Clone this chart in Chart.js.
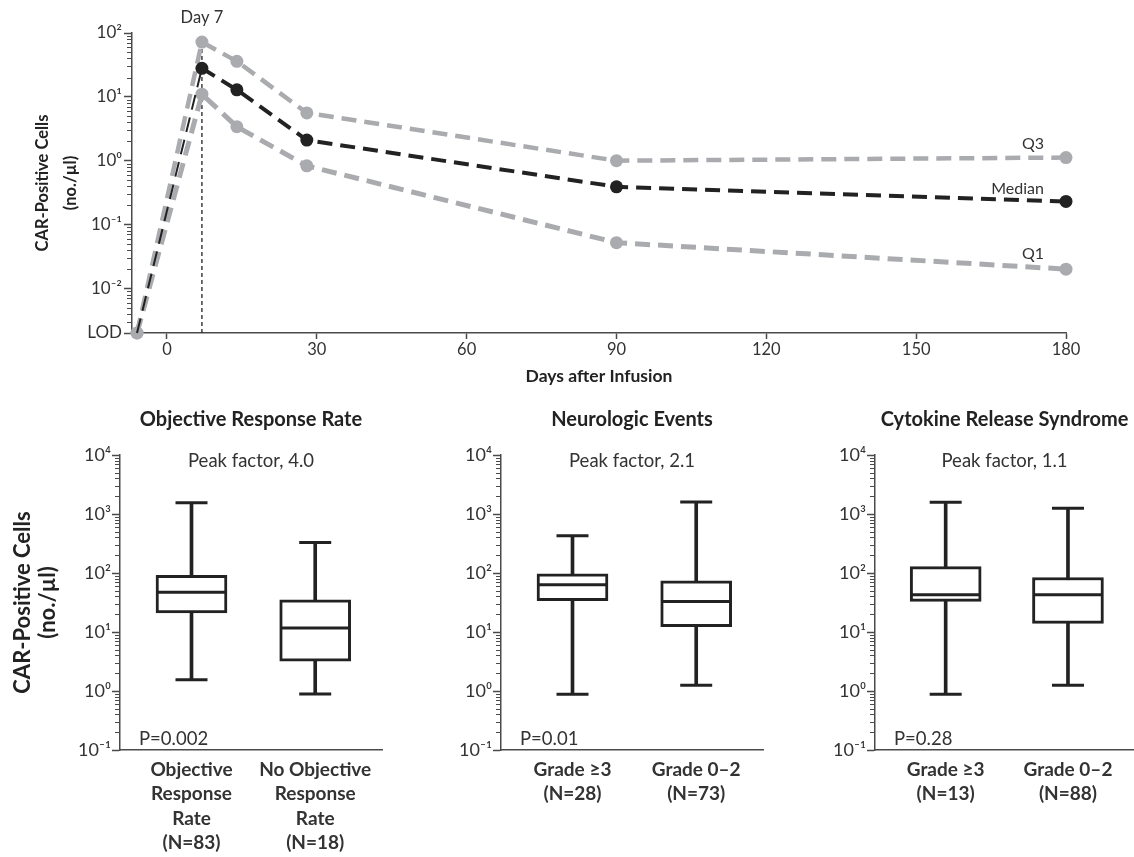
<!DOCTYPE html>
<html><head><meta charset="utf-8">
<script src="https://cdn.jsdelivr.net/npm/chart.js@4.4.1/dist/chart.umd.min.js"></script>
<style>
html,body{margin:0;padding:0;background:#fff;width:1134px;height:857px;overflow:hidden;}
canvas{position:absolute;}
</style></head><body>
<canvas id="top" width="1134" height="390" style="left:0;top:0"></canvas>
<canvas id="p1" width="390" height="472" style="left:0;top:385px"></canvas>
<canvas id="p2" width="380" height="472" style="left:390px;top:385px"></canvas>
<canvas id="p3" width="364" height="472" style="left:770px;top:385px"></canvas>
<script>
// ---------- data ----------
const LOD = 0.002;
const days = [-6, 7, 14, 28, 90, 180];
const q3Cells = [LOD, 72, 36, 5.6, 1.0, 1.12];
const medianCells = [LOD, 28, 12.9, 2.1, 0.39, 0.23];
const q1Cells = [LOD, 11, 3.4, 0.83, 0.052, 0.020];
const peakDay = 7;
const dayTicks = [0, 30, 60, 90, 120, 150, 180];
const topYTicks = [LOD, 0.01, 0.1, 1, 10, 100];
const topYTickLabels = ['LOD', '10⁻²', '10⁻¹', '10⁰', '10¹', '10²'];
const boxYTicks = [0.1, 1, 10, 100, 1000, 10000];
const boxYTickLabels = ['10⁻¹', '10⁰', '10¹', '10²', '10³', '10⁴'];

const orrGroups = [['Objective', 'Response', 'Rate', '(N=83)'], ['No Objective', 'Response', 'Rate', '(N=18)']];
const orrMin = [1.55, 0.89];
const orrQ1 = [21, 3.2];
const orrMedian = [47, 11.7];
const orrQ3 = [91, 35];
const orrMax = [1550, 330];

const neGroups = [['Grade ≥3', '(N=28)'], ['Grade 0–2', '(N=73)']];
const neMin = [0.88, 1.25];
const neQ1 = [34, 12.3];
const neMedian = [63, 33];
const neQ3 = [97, 74];
const neMax = [430, 1600];

const crsGroups = [['Grade ≥3', '(N=13)'], ['Grade 0–2', '(N=88)']];
const crsMin = [0.88, 1.25];
const crsQ1 = [33, 14];
const crsMedian = [43, 43];
const crsQ3 = [128, 84];
const crsMax = [1580, 1250];

// ---------- styling ----------
const FONT = "Lato, 'Noto Sans', 'DejaVu Sans', sans-serif";
const GRAY = '#a9abae';
const DARK = '#222222';
const AXIS = '#4a4a4a';

function textPlugin(items) {
  return {
    id: 'texts',
    afterDraw(chart) {
      const ctx = chart.ctx;
      items.forEach(it => {
        ctx.save();
        ctx.font = it.font;
        ctx.fillStyle = it.color || DARK;
        ctx.textAlign = it.align || 'center';
        ctx.textBaseline = 'middle';
        ctx.fillText(it.text, it.x(chart), it.y(chart));
        ctx.restore();
      });
    }
  };
}
function minorTickPlugin(values, len) {
  return {
    id: 'minorTicks',
    afterDraw(chart) {
      const s = chart.scales.y, ctx = chart.ctx;
      ctx.save();
      ctx.strokeStyle = AXIS; ctx.lineWidth = 1;
      ctx.beginPath();
      values.forEach(v => {
        const y = Math.round(s.getPixelForValue(v)) + 0.5;
        ctx.moveTo(s.right - len, y); ctx.lineTo(s.right, y);
      });
      ctx.stroke(); ctx.restore();
    }
  };
}
function minorValues(kFrom, kTo, lo, hi) {
  const out = [];
  for (let k = kFrom; k <= kTo; k++) for (let m = 2; m <= 9; m++) {
    const v = m * Math.pow(10, k);
    if (v > lo && v < hi) out.push(v);
  }
  return out;
}

// ---------- top chart ----------
const pts = arr => days.map((d, i) => ({ x: d, y: arr[i] }));
new Chart(document.getElementById('top'), {
  type: 'line',
  data: {
    datasets: [
      { data: [{ x: peakDay, y: q3Cells[1] }, { x: peakDay, y: LOD }], borderColor: DARK, borderWidth: 1.3,
        borderDash: [4, 3], pointRadius: 0, order: 10, clip: false },
      { label: 'Q3', data: pts(q3Cells), borderColor: GRAY, backgroundColor: GRAY, borderWidth: 4.5, borderDash: [15, 8],
        pointRadius: 6.5, pointBorderWidth: 0, pointBackgroundColor: GRAY, order: 3, clip: false },
      { label: 'Q1', data: pts(q1Cells), borderColor: GRAY, backgroundColor: GRAY, borderWidth: 5, borderDash: [15, 8],
        pointRadius: 6.5, pointBorderWidth: 0, pointBackgroundColor: GRAY, order: 2, clip: false },
      { label: 'Median', data: pts(medianCells), borderColor: DARK, backgroundColor: DARK, borderWidth: 4, borderDash: [15, 8],
        segment: { borderWidth: c => (c.p0DataIndex === 0 ? 2 : undefined) },
        pointRadius: c => (c.dataIndex === 0 ? 0 : 6.5), pointBorderWidth: 0, pointBackgroundColor: DARK, order: 1, clip: false }
    ]
  },
  options: {
    responsive: false, animation: false, devicePixelRatio: 1,
    layout: { autoPadding: false, padding: { top: 33, right: 68, left: 0, bottom: 0 } },
    plugins: { legend: { display: false }, tooltip: { enabled: false } },
    scales: {
      x: {
        type: 'linear', min: -7, max: 180, offset: false,
        afterBuildTicks: s => { s.ticks = dayTicks.map(v => ({ value: v })); },
        afterFit: s => { s.height = 57; s.paddingLeft = 0; s.paddingRight = 0; },
        grid: { drawOnChartArea: false, drawTicks: true, tickLength: 6, tickColor: AXIS, tickWidth: 1.5 },
        border: { color: AXIS, width: 1.5 },
        ticks: { font: { family: FONT, size: 16.5 }, color: '#333', padding: 1, maxRotation: 0, autoSkip: false,
                 callback: v => String(v) },
        title: { display: true, text: 'Days after Infusion', color: DARK,
                 font: { family: FONT, size: 17.5, weight: 'bold' }, padding: { top: 0, bottom: 3.5 } }
      },
      y: {
        type: 'logarithmic', min: LOD, max: 100, bounds: 'data',
        afterBuildTicks: s => { s.ticks = topYTicks.map(v => ({ value: v })); },
        afterFit: s => { s.width = 132; },
        grid: { drawOnChartArea: false, drawTicks: true, tickLength: 8, tickColor: AXIS, tickWidth: 1.5 },
        border: { color: AXIS, width: 1.5 },
        ticks: { font: { family: FONT, size: 17 }, color: '#333', padding: 2, autoSkip: false,
                 callback: v => { const i = topYTicks.indexOf(v); return i >= 0 ? topYTickLabels[i] : ''; } },
        title: { display: true, text: ['CAR-Positive Cells', '(no./µl)'], color: DARK,
                 font: { family: FONT, size: 16.5, weight: 'bold', lineHeight: 1.7 }, padding: { top: 29 } }
      }
    }
  },
  plugins: [
    minorTickPlugin(minorValues(-3, 1, LOD, 100), 5),
    textPlugin([
      { text: 'Day 7', font: `16.5px ${FONT}`, color: '#333', x: c => c.scales.x.getPixelForValue(peakDay), y: c => 18 },
      { text: 'Q3', font: `16px ${FONT}`, color: '#333', align: 'right',
        x: c => c.scales.x.getPixelForValue(180) - 22, y: c => c.scales.y.getPixelForValue(q3Cells[5]) - 14 },
      { text: 'Median', font: `16px ${FONT}`, color: '#333', align: 'right',
        x: c => c.scales.x.getPixelForValue(180) - 22, y: c => c.scales.y.getPixelForValue(medianCells[5]) - 13 },
      { text: 'Q1', font: `16px ${FONT}`, color: '#333', align: 'right',
        x: c => c.scales.x.getPixelForValue(180) - 22, y: c => c.scales.y.getPixelForValue(q1Cells[5]) - 15 }
    ])
  ]
});

// ---------- box plot panels ----------
function makePanel(id, title, peakText, pText, groups, mins, q1s, meds, q3s, maxs, yWidth, padRight, yTitle) {
  const idx = arr => arr.map((v, i) => ({ x: i, y: v }));
  new Chart(document.getElementById(id), {
    type: 'bar',
    data: {
      datasets: [
        { type: 'bar', data: groups.map((g, i) => ({ x: i, y: [mins[i], maxs[i]] })), backgroundColor: DARK,
          borderWidth: 0, barThickness: 3, grouped: false, order: 4 },
        { type: 'line', data: idx(mins).concat(idx(maxs)), showLine: false, pointStyle: 'line', pointRadius: 16,
          pointBorderWidth: 3, pointBorderColor: DARK, borderColor: DARK, order: 3 },
        { type: 'bar', data: groups.map((g, i) => ({ x: i, y: [q1s[i], q3s[i]] })), backgroundColor: '#ffffff',
          borderColor: DARK, borderWidth: 3, borderSkipped: false, barThickness: 71, grouped: false, order: 2 },
        { type: 'line', data: idx(meds), showLine: false, pointStyle: 'line', pointRadius: 34,
          pointBorderWidth: 3, pointBorderColor: DARK, borderColor: DARK, order: 1 }
      ]
    },
    options: {
      responsive: false, animation: false, devicePixelRatio: 1,
      layout: { autoPadding: false, padding: { top: 70, right: padRight, left: 0, bottom: 0 } },
      plugins: { legend: { display: false }, tooltip: { enabled: false } },
      scales: {
        x: {
          type: 'linear', min: -0.578, max: 1.54, offset: false, bounds: 'data',
          afterBuildTicks: s => { s.ticks = groups.map((g, i) => ({ value: i })); },
          afterFit: s => { s.height = 107; s.paddingLeft = 0; s.paddingRight = 0; },
          grid: { drawOnChartArea: false, drawTicks: false },
          border: { color: AXIS, width: 1.5 },
          ticks: { font: { family: FONT, size: 19, weight: 'bold', lineHeight: 1.29 }, color: '#333', padding: 7.5,
                   maxRotation: 0, autoSkip: false, callback: v => groups[v] }
        },
        y: {
          type: 'logarithmic', min: 0.1, max: 10000, bounds: 'data',
          afterBuildTicks: s => { s.ticks = boxYTicks.map(v => ({ value: v })); },
          afterFit: s => { s.width = yWidth; },
          grid: { drawOnChartArea: false, drawTicks: true, tickLength: 8, tickColor: AXIS, tickWidth: 1.5 },
          border: { color: AXIS, width: 1.5 },
          ticks: { font: { family: FONT, size: 18 }, color: '#333', padding: 1, autoSkip: false,
                   callback: v => { const i = boxYTicks.indexOf(v); return i >= 0 ? boxYTickLabels[i] : ''; } },
          title: { display: !!yTitle, text: ['CAR-Positive Cells', '(no./µl)'], color: DARK,
                   font: { family: FONT, size: 22, weight: 'bold', lineHeight: 1.15 }, padding: { top: 10 } }
        }
      }
    },
    plugins: [
      minorTickPlugin(minorValues(-1, 3, 0.1, 10000), 5),
      textPlugin([
        { text: title, font: `bold 20px ${FONT}`, color: DARK,
          x: c => (c.chartArea.left + c.chartArea.right) / 2, y: c => 35 },
        { text: peakText, font: `18.5px ${FONT}`, color: '#333',
          x: c => (c.chartArea.left + c.chartArea.right) / 2, y: c => c.chartArea.top + 6 },
        { text: pText, font: `18.5px ${FONT}`, color: '#333', align: 'left',
          x: c => c.chartArea.left + 19, y: c => c.chartArea.bottom - 11 }
      ])
    ]
  });
}
makePanel('p1', 'Objective Response Rate', 'Peak factor, 4.0', 'P=0.002', orrGroups,
  orrMin, orrQ1, orrMedian, orrQ3, orrMax, 120, 8, true);
makePanel('p2', 'Neurologic Events', 'Peak factor, 2.1', 'P=0.01', neGroups,
  neMin, neQ1, neMedian, neQ3, neMax, 111, 7, false);
makePanel('p3', 'Cytokine Release Syndrome', 'Peak factor, 1.1', 'P=0.28', crsGroups,
  crsMin, crsQ1, crsMedian, crsQ3, crsMax, 105, 0, false);
</script>
</body></html>
